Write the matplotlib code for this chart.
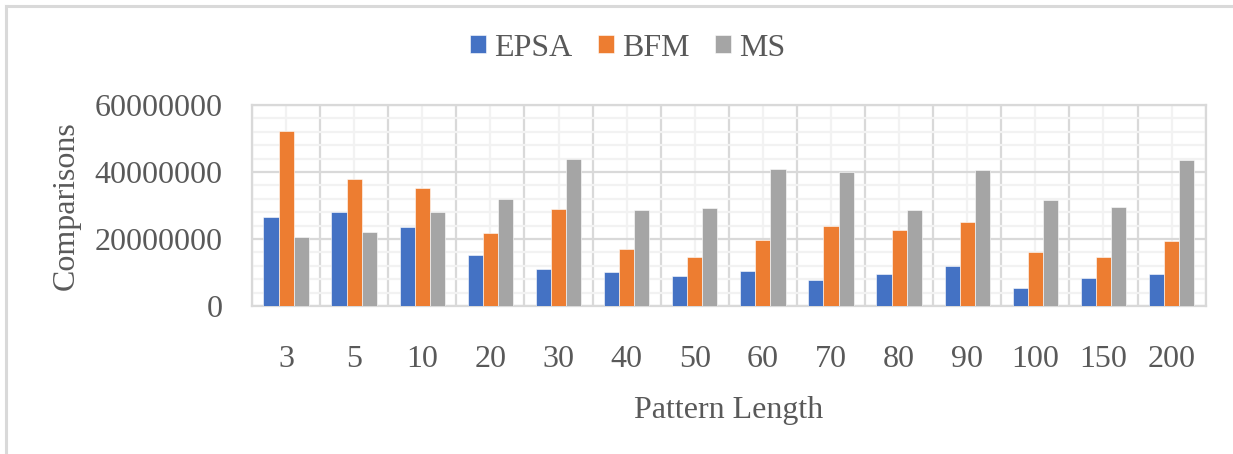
import numpy as np
import matplotlib
matplotlib.use('Agg')
import matplotlib.pyplot as plt
from matplotlib.lines import Line2D
from matplotlib.ticker import MultipleLocator

plt.rcParams['font.family'] = ['Liberation Serif', 'DejaVu Serif']

# Comparisons per pattern length, read in millions
pattern_lengths = ['3', '5', '10', '20', '30', '40', '50', '60', '70', '80', '90', '100', '150', '200']
epsa = [26.6, 28.1, 23.6, 15.1, 11.0, 10.0, 9.0, 10.4, 7.8, 9.6, 11.8, 5.3, 8.3, 9.6]
bfm = [52.1, 37.8, 35.3, 21.7, 28.9, 16.9, 14.5, 19.7, 23.9, 22.7, 25.0, 16.2, 14.6, 19.4]
ms = [20.6, 22.1, 27.9, 31.8, 43.9, 28.5, 29.3, 41.0, 39.9, 28.7, 40.6, 31.5, 29.6, 43.5]

series = [('EPSA', epsa, '#4472C4'), ('BFM', bfm, '#ED7D31'), ('MS', ms, '#A5A5A5')]
text_color = '#595959'
grid_major = '#D9D9D9'
grid_minor = '#F2F2F2'

fig = plt.figure(figsize=(12.33, 4.54), dpi=100)
ax = fig.add_axes([0.2044, 0.326, 0.7734, 0.443])

x = np.arange(len(pattern_lengths))
bar_w = 1 / 4.5
for i, (name, vals, color) in enumerate(series):
    ax.bar(x + (i - 1) * bar_w, np.array(vals) * 1e6, width=bar_w, color=color,
           edgecolor='white', linewidth=0.4, label=name, zorder=3)

ax.set_xlim(-0.5, len(pattern_lengths) - 0.5)
ax.set_ylim(0, 60000000)

# gridlines: category boundaries + centers, 20M major / 4M minor
ax.set_xticks(x)
ax.set_xticklabels(pattern_lengths)
for b in np.arange(-0.5, len(pattern_lengths), 1):
    ax.axvline(b, color=grid_major, lw=1.6, zorder=1)
for c in x:
    ax.axvline(c, color=grid_minor, lw=1.6, zorder=0.5)
ax.yaxis.set_major_locator(MultipleLocator(20000000))
ax.yaxis.set_minor_locator(MultipleLocator(4000000))
ax.grid(axis='y', which='major', color=grid_major, lw=1.6, zorder=1)
ax.grid(axis='y', which='minor', color=grid_minor, lw=1.6, zorder=0.5)
ax.ticklabel_format(axis='y', style='plain')

for s in ax.spines.values():
    s.set_color(grid_major)
    s.set_linewidth(1.6)

ax.tick_params(axis='both', which='both', length=0, labelsize=23, colors=text_color)
ax.tick_params(axis='x', pad=28)
ax.tick_params(axis='y', pad=21)

ax.set_xlabel('Pattern Length', fontsize=23, color=text_color, labelpad=16)
ax.set_ylabel('Comparisons', fontsize=23, color=text_color, labelpad=10)

leg = fig.legend(loc='center', bbox_to_anchor=(0.509, 0.894), ncol=3, frameon=False,
                 fontsize=23, handlelength=0.5, handleheight=0.5, handletextpad=0.25,
                 columnspacing=0.8)
for t in leg.get_texts():
    t.set_color(text_color)

# outer chart border on left and top
fig.add_artist(Line2D([6 / 1233, 6 / 1233], [0, 1 - 6 / 454], color=grid_major, lw=2.2))
fig.add_artist(Line2D([6 / 1233, 1], [1 - 6 / 454, 1 - 6 / 454], color=grid_major, lw=2.2))

fig.savefig('out.png', dpi=100, facecolor='white')
